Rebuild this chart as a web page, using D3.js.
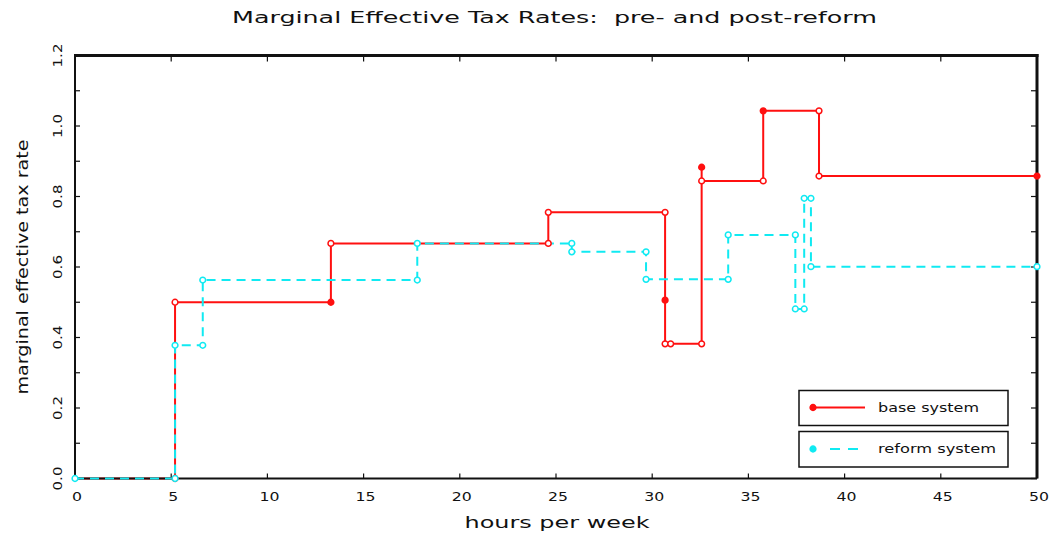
<!DOCTYPE html>
<html>
<head>
<meta charset="utf-8">
<script src="https://cdn.jsdelivr.net/npm/d3@7"></script>
<style>
  html, body { margin: 0; padding: 0; background: #fff; }
  svg { display: block; }
  text { font-family: "DejaVu Sans", sans-serif; fill: #111; }
</style>
</head>
<body>
<svg id="chart" width="1053" height="538"></svg>
<script>
// ---- data ----
const titleText = "Marginal Effective Tax Rates:  pre- and post-reform";
const xLabel = "hours per week";
const yLabel = "marginal effective tax rate";
const xTicks = [0, 5, 10, 15, 20, 25, 30, 35, 40, 45, 50];
const yTicks = [0.0, 0.2, 0.4, 0.6, 0.8, 1.0, 1.2];
const yMinorTicks = [0.1, 0.3, 0.5, 0.7, 0.9, 1.1];
const seriesNames = ["base system", "reform system"];

const baseHours = [0, 5.2, 5.2, 13.3, 13.3, 24.6, 24.6, 30.67, 30.67, 30.67, 30.96, 32.57, 32.57, 32.57, 35.77, 35.77, 38.67, 38.67, 50];
const baseRates = [0, 0, 0.50, 0.50, 0.667, 0.667, 0.755, 0.755, 0.506, 0.382, 0.382, 0.382, 0.883, 0.844, 0.844, 1.043, 1.043, 0.858, 0.858];
const baseFilled = [0, 0, 0, 1, 0, 0, 0, 0, 1, 0, 0, 0, 1, 0, 0, 1, 0, 0, 1];

const reformHours = [0, 5.2, 5.2, 6.64, 6.64, 17.79, 17.79, 25.82, 25.82, 29.68, 29.68, 33.95, 33.95, 37.44, 37.44, 37.9, 37.9, 38.25, 38.25, 50];
const reformRates = [0, 0, 0.378, 0.378, 0.563, 0.563, 0.667, 0.667, 0.643, 0.643, 0.565, 0.565, 0.691, 0.691, 0.481, 0.481, 0.795, 0.795, 0.601, 0.601];

// ---- layout ----
const W = 1053, H = 538;
const m = { left: 75, right: 16, top: 55.5, bottom: 59.5 };
const x = d3.scaleLinear().domain([0, 50]).range([m.left, W - m.right]);
const y = d3.scaleLinear().domain([0, 1.2]).range([H - m.bottom, m.top]);
const RED = "#ff1010", CYAN = "#10eaf2";

const svg = d3.select("#chart");

// title
svg.append("text").attr("x", 554.5).attr("y", 23).attr("text-anchor", "middle")
  .attr("font-size", 15).attr("textLength", 645).attr("lengthAdjust", "spacingAndGlyphs")
  .style("white-space", "pre").attr("xml:space", "preserve")
  .text(titleText);

const basePts = baseHours.map((h, i) => ({ h, r: baseRates[i], f: baseFilled[i] }));
const reformPts = reformHours.map((h, i) => ({ h, r: reformRates[i] }));
const line = d3.line().x(d => x(d.h)).y(d => y(d.r));
const sym = d3.symbol().type(d3.symbolCircle).size(26);

// base series (under the frame)
svg.append("path").datum(basePts).attr("d", line)
  .attr("fill", "none").attr("stroke", RED).attr("stroke-width", 2);

// axes frame
const x0 = x(0), x1 = x(50), y0 = y(0), y1 = y(1.2);
const frame = svg.append("g").attr("stroke", "#111");
frame.append("line").attr("x1", x0).attr("x2", x0).attr("y1", y0).attr("y2", y1).attr("stroke-width", 2);
frame.append("line").attr("x1", x0).attr("x2", x1).attr("y1", y0).attr("y2", y0).attr("stroke-width", 2);
frame.append("line").attr("x1", x0 - 1).attr("x2", x1 + 1.5).attr("y1", y1).attr("y2", y1).attr("stroke-width", 3);
frame.append("line").attr("x1", x1).attr("x2", x1).attr("y1", y0).attr("y2", y1 - 1.5).attr("stroke-width", 3);

frame.selectAll(".xtb").data(xTicks).join("line")
  .attr("x1", d => x(d)).attr("x2", d => x(d)).attr("y1", y0).attr("y2", y0 - 5).attr("stroke-width", 1.2);
frame.selectAll(".xtt").data(xTicks).join("line")
  .attr("x1", d => x(d)).attr("x2", d => x(d)).attr("y1", y1).attr("y2", y1 + 6).attr("stroke-width", 1.2);
const allY = yTicks.concat(yMinorTicks);
frame.selectAll(".ytl").data(allY).join("line")
  .attr("x1", x0).attr("x2", x0 + 5).attr("y1", d => y(d)).attr("y2", d => y(d)).attr("stroke-width", 1.2);
frame.selectAll(".ytr").data(allY).join("line")
  .attr("x1", x1).attr("x2", x1 - 6).attr("y1", d => y(d)).attr("y2", d => y(d)).attr("stroke-width", 1.2);

// reform series (over the frame)
svg.append("path").datum(reformPts).attr("d", line)
  .attr("fill", "none").attr("stroke", CYAN).attr("stroke-width", 2)
  .attr("stroke-dasharray", "9,6");

// markers
svg.append("g").selectAll("path").data(basePts.slice(1)).join("path")
  .attr("transform", d => `translate(${x(d.h)},${y(d.r)})`)
  .attr("d", sym)
  .attr("fill", d => d.f ? RED : "#fff")
  .attr("stroke", RED).attr("stroke-width", 1.5);
svg.append("g").selectAll("path").data(reformPts).join("path")
  .attr("transform", d => `translate(${x(d.h)},${y(d.r)})`)
  .attr("d", sym)
  .attr("fill", "#fff")
  .attr("stroke", CYAN).attr("stroke-width", 1.5);

// tick labels
svg.append("g").selectAll("text").data(xTicks).join("text")
  .attr("x", d => x(d) + 2).attr("y", 501).attr("text-anchor", "middle")
  .attr("font-size", 13)
  .attr("textLength", d => String(d).length * 10).attr("lengthAdjust", "spacingAndGlyphs")
  .text(d => d3.format("d")(d));
svg.append("g").selectAll("text").data(yTicks).join("text")
  .attr("transform", d => `translate(62,${y(d)}) rotate(-90)`)
  .attr("text-anchor", "middle").attr("font-size", 13)
  .attr("textLength", 24).attr("lengthAdjust", "spacingAndGlyphs")
  .text(d => d3.format(".1f")(d));

// axis labels
svg.append("text").attr("x", 557).attr("y", 528).attr("text-anchor", "middle")
  .attr("font-size", 16).attr("textLength", 185).attr("lengthAdjust", "spacingAndGlyphs").text(xLabel);
svg.append("text").attr("transform", "translate(28,267) rotate(-90)").attr("text-anchor", "middle")
  .attr("font-size", 16).attr("textLength", 255).attr("lengthAdjust", "spacingAndGlyphs").text(yLabel);

// legend
const lg = svg.append("g");
const boxes = [{ y: 390.5, h: 35 }, { y: 431.5, h: 35.5 }];
lg.selectAll("rect").data(boxes).join("rect")
  .attr("x", 799).attr("y", d => d.y).attr("width", 209).attr("height", d => d.h)
  .attr("fill", "#fff").attr("stroke", "#111").attr("stroke-width", 1.5);
lg.append("line").attr("x1", 813).attr("x2", 865).attr("y1", 407.5).attr("y2", 407.5)
  .attr("stroke", RED).attr("stroke-width", 2);
lg.append("path").attr("transform", "translate(813,407.5)").attr("d", sym)
  .attr("fill", RED).attr("stroke", RED).attr("stroke-width", 1.5);
lg.append("line").attr("x1", 830).attr("x2", 858).attr("y1", 449).attr("y2", 449)
  .attr("stroke", CYAN).attr("stroke-width", 2).attr("stroke-dasharray", "10,8");
lg.append("path").attr("transform", "translate(813,449)").attr("d", sym)
  .attr("fill", CYAN).attr("stroke", CYAN).attr("stroke-width", 1.5);
lg.append("text").attr("x", 878).attr("y", 412).attr("font-size", 12)
  .attr("textLength", 101).attr("lengthAdjust", "spacingAndGlyphs").text(seriesNames[0]);
lg.append("text").attr("x", 878).attr("y", 453).attr("font-size", 12)
  .attr("textLength", 118).attr("lengthAdjust", "spacingAndGlyphs").text(seriesNames[1]);
</script>
</body>
</html>
